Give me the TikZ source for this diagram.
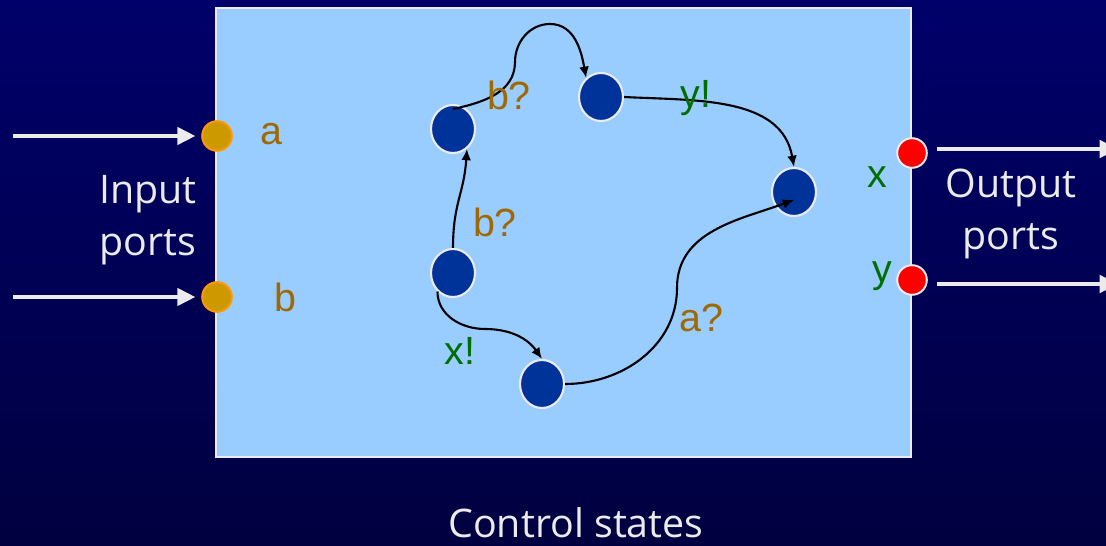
\documentclass[tikz,border=0pt]{standalone}
\usepackage{fontspec}
\setmainfont{Liberation Sans}
\newfontfamily\handfont{Open Sans}
\usetikzlibrary{arrows.meta, calc, positioning, shapes.geometric}
\definecolor{navytop}{RGB}{0, 0, 106}
\definecolor{navybot}{RGB}{0, 0, 64}
\definecolor{boxblue}{RGB}{153, 204, 255}
\definecolor{statefill}{RGB}{0, 51, 153}
\definecolor{portgold}{RGB}{204, 153, 0}
\definecolor{portrim}{RGB}{255, 153, 0}
\definecolor{labelbrown}{RGB}{160, 104, 0}
\definecolor{labelgreen}{RGB}{0, 110, 0}
\definecolor{paleline}{RGB}{235, 235, 235}

\begin{document}
\begin{tikzpicture}[
		x=0.025cm, y=0.025cm,
		state/.style={ellipse, draw=paleline, fill=statefill, line width=1.5pt,
			minimum width=1.1cm, minimum height=1.2cm, inner sep=0pt},
		inport/.style={circle, draw=portrim, fill=portgold, line width=1.4pt,
			minimum size=0.74cm, inner sep=0pt},
		outport/.style={circle, draw=paleline, fill=red, line width=1.4pt,
			minimum size=0.74cm, inner sep=0pt},
		inlabel/.style={text=labelbrown, font=\fontsize{28}{32}\selectfont, anchor=base},
		outlabel/.style={inlabel, text=labelgreen},
		hand/.style={text=paleline, align=center, font=\handfont\fontsize{28}{37}\selectfont},
		portarr/.style={-{Triangle[length=13pt, width=12pt]}, line width=3.5pt, paleline},
		trans/.style={-{Latex[length=8pt, width=7pt]}, line width=1.5pt, black}
		]
		\useasboundingbox (0,0) rectangle (1106,546);
		\clip (0,0) rectangle (1106,546);
		\shade[top color=navytop, bottom color=navybot] (0,0) rectangle (1106,546);
		% the machine
		\node[draw=paleline, fill=boxblue, line width=1.4pt,
		minimum width=17.375cm, minimum height=11.225cm] (machine) at (563.5,313.5) {};
		% ports
		\node[inport] (pa) at (217,410) {};
		\node[inport] (pb) at (217,249) {};
		\node[outport] (px) at (912,393) {};
		\node[outport] (py) at (912,266) {};
		\coordinate (astart) at (13,410);
		\coordinate (bstart) at (13,249);
		\coordinate (xend) at (1118,397);
		\coordinate (yend) at (1118,262);
		\draw[portarr, shorten >=4pt] (astart) -- (pa);
		\draw[portarr, shorten >=4pt] (bstart) -- (pb);
		\draw[portarr] (px.east |- xend) ++(9,0) -- (xend);
		\draw[portarr] (py.east |- yend) ++(9,0) -- (yend);
		\node[inlabel] (la) at (271,401) {a};
		\node[inlabel] (lb) at (285,234) {b};
		\node[outlabel] (lx) at (877,358) {x};
		\node[outlabel] (ly) at (882,263) {y};
		\node[hand] (intext) at (148,326) {Input\\ports};
		\node[hand] (outtext) at (1011,332) {Output\\ports};
		% control states
		\node[state] (s1) at (453,417) {};
		\node[state] (s2) at (601,449) {};
		\node[state] (s3) at (794,354) {};
		\node[state] (s4) at (453,273) {};
		\node[state] (s5) at (542,162) {};
		\draw[trans] (s4.north) .. controls +(0,45) and +(-3,-45) .. (s1.-55);
		\draw[trans] ($(s1)+(0,20)$) to[out=12, in=-90] (515,484)
		to[out=90, in=180] (550,522) to[out=0, in=100] (s2.128);
		\draw[trans] (s2.east) to[out=-3, in=100] (s3.north);
		\draw[trans] (s5.east) to[out=0, in=-90] (677,258)
		to[out=90, in=200] ($(s3)+(0,-8)$);
		\draw[trans] (s4.-130) to[out=-90, in=180] (485,217)
		to[out=0, in=125] (s5.north);
		\node[inlabel] (lbq1) at (509,436) {b?};
		\node[inlabel] (lbq2) at (495,309) {b?};
		\node[outlabel] (lyx) at (696,438) {y!};
		\node[inlabel] (laq) at (701,214) {a?};
		\node[outlabel] (lxx) at (460,181) {x!};
		\node[hand, anchor=base] (caption) at (576,8) {Control states};
	\end{tikzpicture}
\end{document}
